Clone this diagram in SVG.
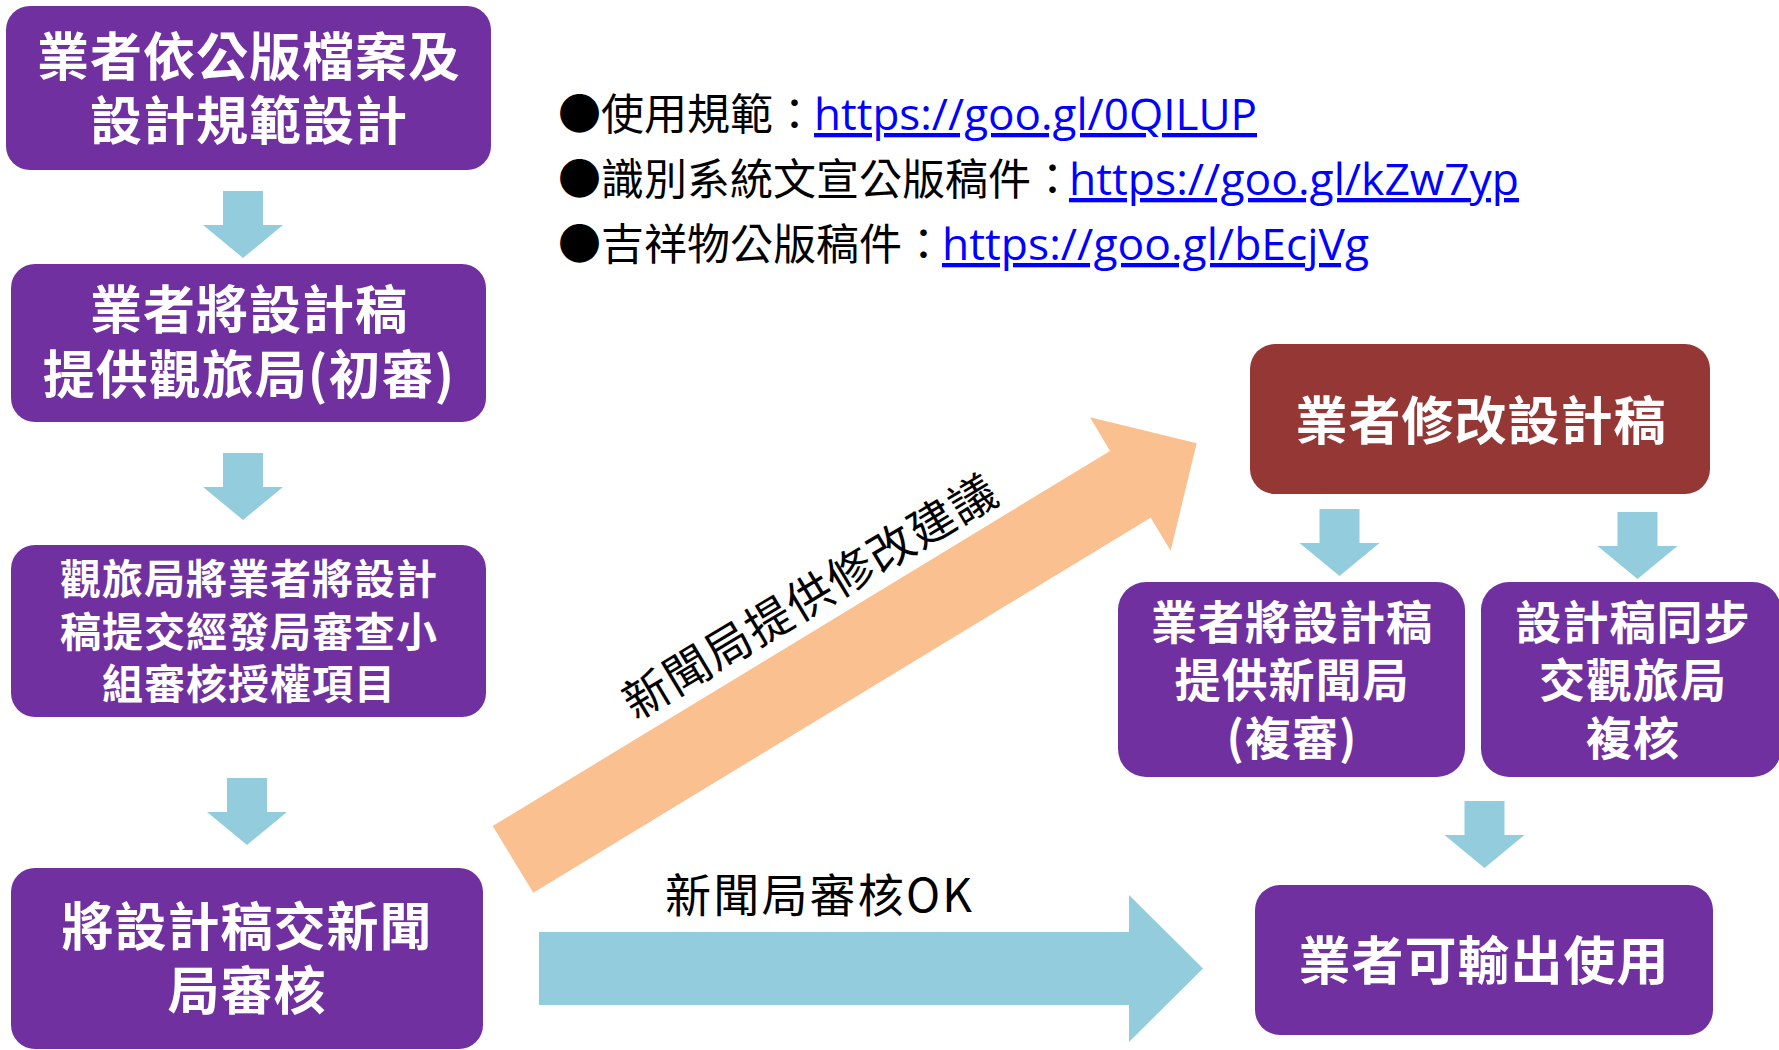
<svg xmlns="http://www.w3.org/2000/svg" width="1779" height="1050" viewBox="0 0 1779 1050">
<style>
.box{fill:#7030A0}
.red{fill:#953735}
.bt{fill:#fff;font-family:"Noto Sans CJK TC","Noto Sans CJK SC",sans-serif;font-weight:700;text-anchor:middle}
.t52{font-size:52px;letter-spacing:1px}
.t46{font-size:46px;letter-spacing:1px}
.t41{font-size:41px;letter-spacing:1px}
.down{fill:#93CDDD}
.lbl{fill:#000;font-family:"Noto Sans CJK TC","Noto Sans CJK SC",sans-serif;font-size:46px}
.info{font-family:"Noto Sans CJK TC","Noto Sans CJK SC",sans-serif;font-size:43px;fill:#000}
.link{fill:#0000FF;text-decoration:underline;font-family:"Open Sans","Noto Sans CJK TC",sans-serif;font-size:43px}
</style>
<defs>
<path id="dn" d="M-20,0 H20 V34 H40 L0,67 L-40,34 H-20 Z"/>
</defs>
<rect width="1779" height="1050" fill="#fff"/>

<g id="connectors">
<use href="#dn" class="down" transform="translate(243,191)"/>
<use href="#dn" class="down" transform="translate(243,453)"/>
<use href="#dn" class="down" transform="translate(247,778)"/>
<use href="#dn" class="down" transform="translate(1339.5,509)"/>
<use href="#dn" class="down" transform="translate(1637.5,512)"/>
<use href="#dn" class="down" transform="translate(1484.5,801)"/>
<polygon fill="#FAC090" points="492.7,826 1110,451 1090,417.3 1196.7,443.3 1170.7,550.7 1150.7,517.7 533.3,892.7"/>
<polygon fill="#93CDDD" points="539,932 1129,932 1129,895 1203,968.5 1129,1042 1129,1005 539,1005"/>
<text class="lbl" transform="translate(810,596) rotate(-31)" text-anchor="middle" y="17" letter-spacing="1.5">新聞局提供修改建議</text>
<text class="lbl" x="665" y="912" textLength="307">新聞局審核OK</text>
</g>

<g id="info">
<text class="info" x="558" y="130">●</text>
<text class="info" x="601" y="130">使用規範：</text>
<text class="link" x="814" y="130" textLength="443" lengthAdjust="spacingAndGlyphs">https://goo.gl/0QILUP</text>
<text class="info" x="558" y="195">●</text>
<text class="info" x="601" y="195">識別系統文宣公版稿件：</text>
<text class="link" x="1069" y="195" textLength="450" lengthAdjust="spacingAndGlyphs">https://goo.gl/kZw7yp</text>
<text class="info" x="558" y="260">●</text>
<text class="info" x="601" y="260">吉祥物公版稿件：</text>
<text class="link" x="942" y="260" textLength="427" lengthAdjust="spacingAndGlyphs">https://goo.gl/bEcjVg</text>
</g>

<g id="node1">
<rect class="box" x="6" y="6" width="485" height="164" rx="24"/>
<text class="bt t52"><tspan x="249" y="76">業者依公版檔案及</tspan><tspan x="249" y="140">設計規範設計</tspan></text>
</g>
<g id="node2">
<rect class="box" x="11" y="264" width="475" height="158" rx="24"/>
<text class="bt t52"><tspan x="249" y="329">業者將設計稿</tspan><tspan x="249" y="394">提供觀旅局(初審)</tspan></text>
</g>
<g id="node3">
<rect class="box" x="11" y="545" width="475" height="172" rx="24"/>
<text class="bt t41"><tspan x="249" y="594">觀旅局將業者將設計</tspan><tspan x="249" y="647">稿提交經發局審查小</tspan><tspan x="249" y="699">組審核授權項目</tspan></text>
</g>
<g id="node4">
<rect class="box" x="11" y="868" width="472" height="181" rx="24"/>
<text class="bt t52"><tspan x="247" y="946">將設計稿交新聞</tspan><tspan x="247" y="1010">局審核</tspan></text>
</g>
<g id="node5">
<rect class="red" x="1250" y="344" width="460" height="150" rx="25"/>
<text class="bt t52" x="1481" y="440">業者修改設計稿</text>
</g>
<g id="node6">
<rect class="box" x="1118" y="582" width="347" height="195" rx="28"/>
<text class="bt t46"><tspan x="1292" y="639">業者將設計稿</tspan><tspan x="1292" y="697">提供新聞局</tspan><tspan x="1292" y="755">(複審)</tspan></text>
</g>
<g id="node7">
<rect class="box" x="1481" y="582" width="300" height="195" rx="28"/>
<text class="bt t46"><tspan x="1633" y="639">設計稿同步</tspan><tspan x="1633" y="697">交觀旅局</tspan><tspan x="1633" y="755">複核</tspan></text>
</g>
<g id="node8">
<rect class="box" x="1255" y="885" width="458" height="150" rx="25"/>
<text class="bt t52" x="1484" y="980">業者可輸出使用</text>
</g>
</svg>
